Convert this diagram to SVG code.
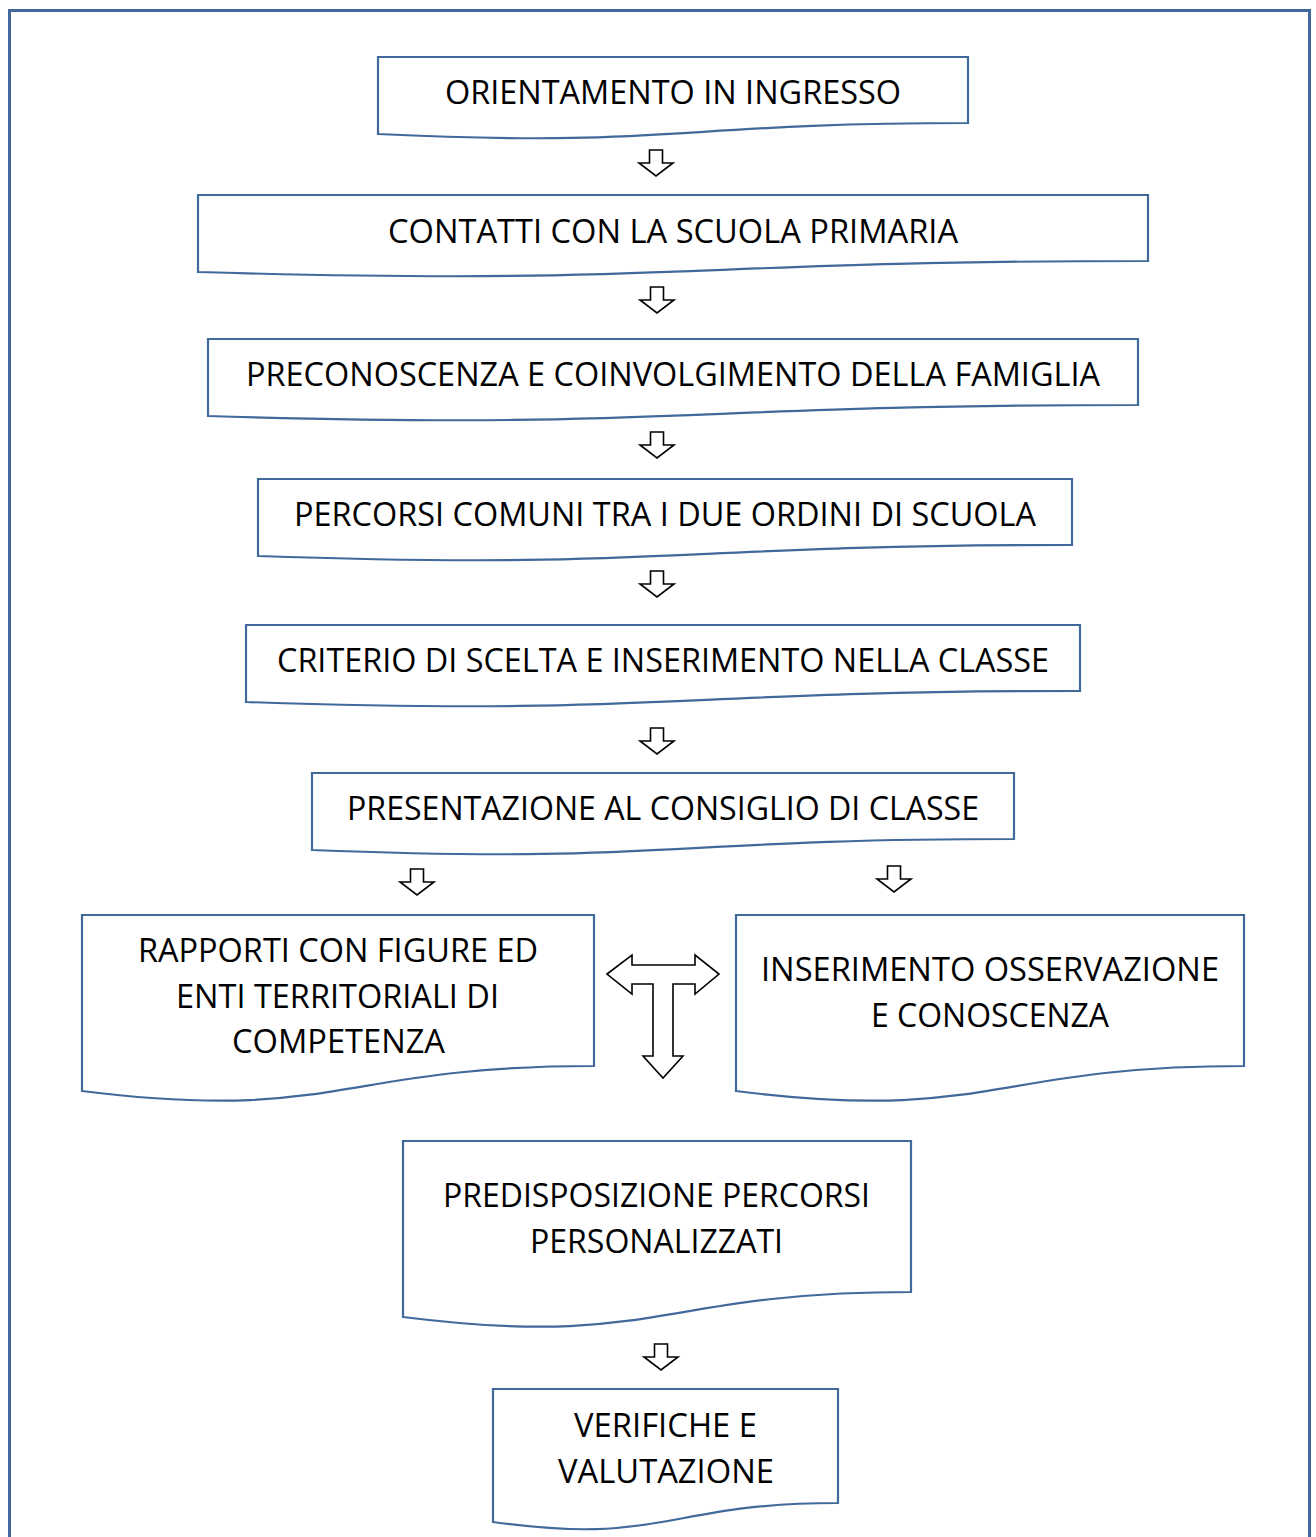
<svg xmlns="http://www.w3.org/2000/svg" width="1316" height="1537" viewBox="0 0 1316 1537">
<style>
.doc{fill:#fff;stroke:#41699b;stroke-width:2.2}
.t{font-family:"Open Sans","Liberation Sans",sans-serif;font-size:32px;fill:#000;text-anchor:middle}
.ar{fill:#fff;stroke:#000;stroke-width:1.6;stroke-linejoin:miter}
</style>
<defs>
<path id="sa" d="M-6.5,0 H6.5 V13 H17 L0,26 L-17,13 H-6.5 Z"/>
</defs>
<rect x="0" y="0" width="1316" height="1537" fill="#fff"/>
<path d="M9.5,1545 V10.5 H1309.5 V1545" fill="none" stroke="#41699b" stroke-width="3"/>

<g id="n1"><path class="doc" d="M378,57 H968 V123 C673,123 673,148 378,134 Z"/><text class="t" x="673" y="104" textLength="456" lengthAdjust="spacingAndGlyphs">ORIENTAMENTO IN INGRESSO</text></g>
<g id="n2"><path class="doc" d="M198,195 H1148 V261 C673,261 673,286 198,272 Z"/><text class="t" x="673" y="243" textLength="570" lengthAdjust="spacingAndGlyphs">CONTATTI CON LA SCUOLA PRIMARIA</text></g>
<g id="n3"><path class="doc" d="M208,339 H1138 V405 C673,405 673,430 208,416 Z"/><text class="t" x="673" y="386" textLength="854" lengthAdjust="spacingAndGlyphs">PRECONOSCENZA E COINVOLGIMENTO DELLA FAMIGLIA</text></g>
<g id="n4"><path class="doc" d="M258,479 H1072 V545 C665,545 665,570 258,556 Z"/><text class="t" x="665" y="526" textLength="742" lengthAdjust="spacingAndGlyphs">PERCORSI COMUNI TRA I DUE ORDINI DI SCUOLA</text></g>
<g id="n5"><path class="doc" d="M246,625 H1080 V691 C663,691 663,716 246,702 Z"/><text class="t" x="663" y="672" textLength="772" lengthAdjust="spacingAndGlyphs">CRITERIO DI SCELTA E INSERIMENTO NELLA CLASSE</text></g>
<g id="n6"><path class="doc" d="M312,773 H1014 V839 C663,839 663,864 312,850 Z"/><text class="t" x="663" y="820" textLength="632" lengthAdjust="spacingAndGlyphs">PRESENTAZIONE AL CONSIGLIO DI CLASSE</text></g>
<g id="n7"><path class="doc" d="M82,915 H594 V1066 C338,1066 338,1123 82,1091 Z"/>
<text class="t" x="338" y="962" textLength="400" lengthAdjust="spacingAndGlyphs">RAPPORTI CON FIGURE ED</text>
<text class="t" x="337.5" y="1008" textLength="323" lengthAdjust="spacingAndGlyphs">ENTI TERRITORIALI DI</text>
<text class="t" x="338.5" y="1053" textLength="213" lengthAdjust="spacingAndGlyphs">COMPETENZA</text></g>
<g id="n8"><path class="doc" d="M736,915 H1244 V1066 C990,1066 990,1123 736,1091 Z"/>
<text class="t" x="990" y="981" textLength="458" lengthAdjust="spacingAndGlyphs">INSERIMENTO OSSERVAZIONE</text>
<text class="t" x="990" y="1027" textLength="238" lengthAdjust="spacingAndGlyphs">E CONOSCENZA</text></g>
<g id="n9"><path class="doc" d="M403,1141 H911 V1292 C657,1292 657,1349 403,1317 Z"/>
<text class="t" x="656.5" y="1207" textLength="427" lengthAdjust="spacingAndGlyphs">PREDISPOSIZIONE PERCORSI</text>
<text class="t" x="656.5" y="1253" textLength="253" lengthAdjust="spacingAndGlyphs">PERSONALIZZATI</text></g>
<g id="n10"><path class="doc" d="M493,1389 H838 V1503 C665,1503 665,1546 493,1522 Z"/>
<text class="t" x="665.5" y="1437" textLength="183" lengthAdjust="spacingAndGlyphs">VERIFICHE E</text>
<text class="t" x="666" y="1483" textLength="216" lengthAdjust="spacingAndGlyphs">VALUTAZIONE</text></g>

<g id="connectors">
<use href="#sa" class="ar" x="656" y="150"/>
<use href="#sa" class="ar" x="657" y="287"/>
<use href="#sa" class="ar" x="657" y="432"/>
<use href="#sa" class="ar" x="657" y="571"/>
<use href="#sa" class="ar" x="657" y="728"/>
<use href="#sa" class="ar" x="417" y="869"/>
<use href="#sa" class="ar" x="894" y="866"/>
<use href="#sa" class="ar" x="661" y="1344"/>
<path class="ar" d="M607,974 L632,955 L632,965 L695,965 L695,955 L719,974 L695,994 L695,984 L673,984 L673,1056 L683,1056 L663,1078 L643,1056 L653,1056 L653,984 L632,984 L632,994 Z"/>
</g>
</svg>
